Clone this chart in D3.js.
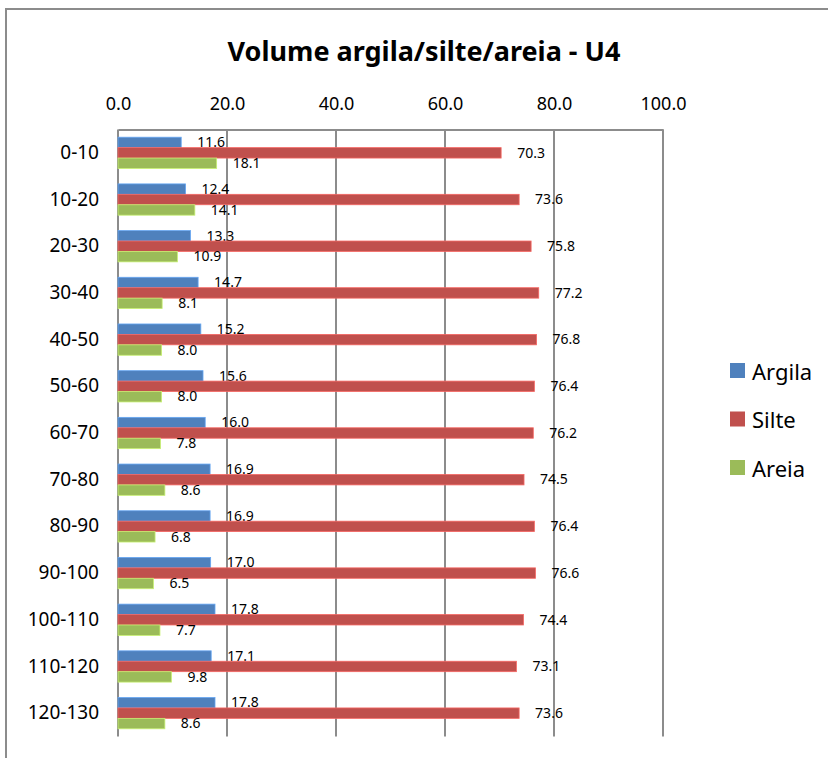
<!DOCTYPE html>
<html>
<head>
<meta charset="utf-8">
<script src="https://cdn.jsdelivr.net/npm/d3@7"></script>
<style>
  html, body { margin: 0; padding: 0; background: #fff; }
  svg { display: block; font-family: "Noto Sans", "Open Sans", sans-serif; }
</style>
</head>
<body>
<svg id="chart" width="828" height="758"></svg>
<script>
// Depth intervals (cm) and grain-size fractions (% volume)
const categories = ["0-10", "10-20", "20-30", "30-40", "40-50", "50-60", "60-70",
                    "70-80", "80-90", "90-100", "100-110", "110-120", "120-130"];
const argila = [11.6, 12.4, 13.3, 14.7, 15.2, 15.6, 16.0, 16.9, 16.9, 17.0, 17.8, 17.1, 17.8];
const silte  = [70.3, 73.6, 75.8, 77.2, 76.8, 76.4, 76.2, 74.5, 76.4, 76.6, 74.4, 73.1, 73.6];
const areia  = [18.1, 14.1, 10.9, 8.1, 8.0, 8.0, 7.8, 8.6, 6.8, 6.5, 7.7, 9.8, 8.6];
const seriesNames = ["Argila", "Silte", "Areia"];
const seriesColors = ["#4F81BD", "#C0504D", "#9BBB59"];
const tickValues = [0, 20, 40, 60, 80, 100];
const title = "Volume argila/silte/areia - U4";

const series = [argila, silte, areia].map((vals, i) => ({
  name: seriesNames[i], color: seriesColors[i], values: vals
}));

const svg = d3.select("#chart");

// chart frame
svg.append("rect")
  .attr("x", 6).attr("y", 9)
  .attr("width", 840).attr("height", 780)
  .attr("fill", "#fff")
  .attr("stroke", "#8c8c8c").attr("stroke-width", 2);

const plot = { left: 118, right: 663, top: 129.5, bottom: 736.5 };

const x = d3.scaleLinear().domain([0, 100]).range([plot.left, plot.right]);
const y = d3.scaleBand().domain(categories)
  .range([plot.top, plot.bottom])
  .paddingInner(0.33).paddingOuter(0.165);
const ySub = d3.scaleBand().domain(seriesNames).range([0, y.bandwidth()]);

// title
svg.append("text")
  .attr("x", 424).attr("y", 61)
  .attr("text-anchor", "middle")
  .attr("font-weight", "bold")
  .attr("font-size", 27)
  .attr("fill", "#000")
  .text(title);

// vertical gridlines
svg.append("g").selectAll("line")
  .data(tickValues.slice(1))
  .join("line")
  .attr("x1", d => x(d)).attr("x2", d => x(d))
  .attr("y1", plot.top).attr("y2", plot.bottom)
  .attr("stroke", "#8c8c8c").attr("stroke-width", 2);

// top value axis
const xAxis = svg.append("g")
  .attr("transform", `translate(0,${plot.top})`)
  .call(d3.axisTop(x).tickValues(tickValues).tickFormat(d3.format(".1f")).tickSize(0).tickPadding(20));
xAxis.select(".domain").attr("stroke", "#8c8c8c").attr("stroke-width", 2);
xAxis.selectAll("text").attr("font-size", 18).attr("fill", "#000")
  .attr("font-family", "\"Noto Sans\", sans-serif");

// left category axis
const yAxis = svg.append("g")
  .attr("transform", `translate(${plot.left},0)`)
  .call(d3.axisLeft(y).tickSize(0).tickPadding(19));
yAxis.select(".domain").attr("d", `M0,${plot.top}V${plot.bottom}`)
  .attr("stroke", "#8c8c8c").attr("stroke-width", 2);
yAxis.selectAll("text").attr("font-size", 19).attr("fill", "#000")
  .attr("font-family", "\"Noto Sans\", sans-serif");

// bars
const groups = svg.append("g").selectAll("g")
  .data(series)
  .join("g");

groups.selectAll("rect")
  .data(s => s.values.map((v, i) => ({ v, cat: categories[i], s })))
  .join("rect")
  .attr("x", x(0))
  .attr("y", d => y(d.cat) + ySub(d.s.name))
  .attr("width", d => x(d.v) - x(0))
  .attr("height", ySub.bandwidth())
  .attr("fill", d => d.s.color)
  .attr("stroke", d => d3.color(d.s.color).brighter(0.7))
  .attr("stroke-width", 0.8);

// data labels
groups.selectAll("text")
  .data(s => s.values.map((v, i) => ({ v, cat: categories[i], s })))
  .join("text")
  .attr("x", d => x(d.v) + 16)
  .attr("y", d => y(d.cat) + ySub(d.s.name) + ySub.bandwidth() / 2 + 1)
  .attr("dominant-baseline", "middle")
  .attr("font-size", 14)
  .attr("fill", "#000")
  .text(d => d3.format(".1f")(d.v));

// legend
const legend = svg.append("g").selectAll("g")
  .data(series)
  .join("g")
  .attr("transform", (d, i) => `translate(730,${370.5 + i * 48.5})`);
legend.append("rect")
  .attr("x", 0).attr("y", -7.5)
  .attr("width", 15).attr("height", 15)
  .attr("fill", d => d.color);
legend.append("text")
  .attr("x", 22).attr("y", 0)
  .attr("dominant-baseline", "central")
  .attr("font-size", 22)
  .attr("fill", "#000")
  .text(d => d.name);
</script>
</body>
</html>
